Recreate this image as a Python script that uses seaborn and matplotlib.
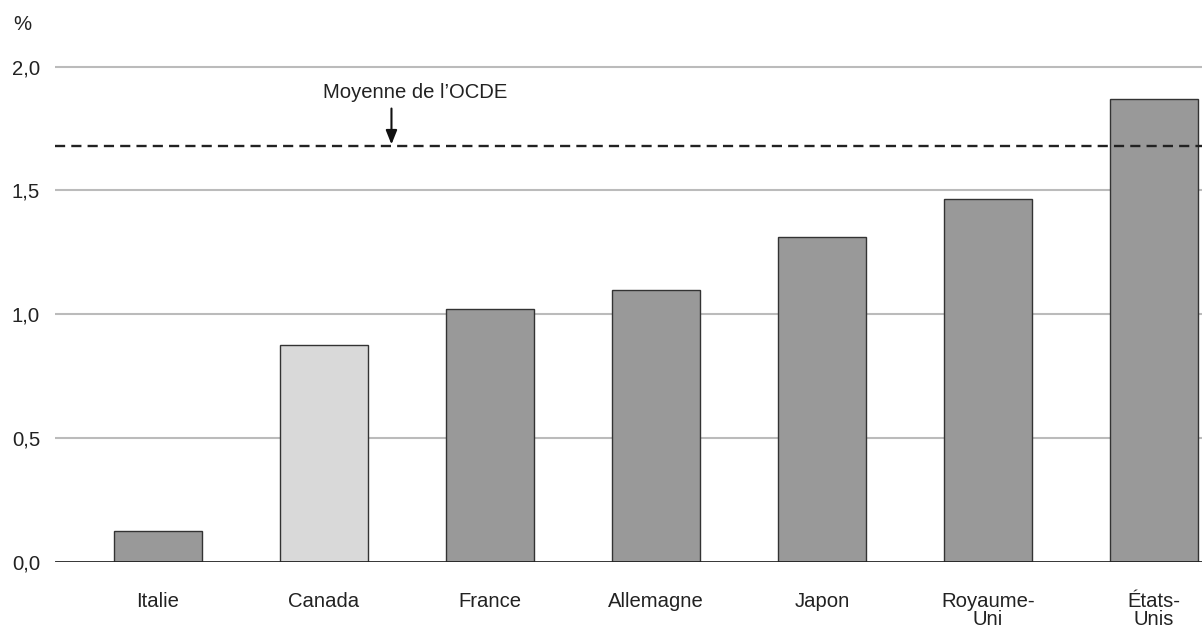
import matplotlib
matplotlib.use("Agg")
import matplotlib.pyplot as plt
import seaborn as sns
import pandas as pd

# Country values (%)
countries = ["Italie", "Canada", "France", "Allemagne", "Japon", "Royaume-\nUni", "États-\nUnis"]
values = [0.125, 0.876, 1.021, 1.098, 1.311, 1.464, 1.870]
oecd_mean = 1.681
y_ticks = [0.0, 0.5, 1.0, 1.5, 2.0]
y_tick_labels = ["0,0", "0,5", "1,0", "1,5", "2,0"]
mean_label = "Moyenne de l\u2019OCDE"
highlight = "Canada"

sns.set_theme(style="white")
plt.rcParams["font.family"] = ["Liberation Sans", "DejaVu Sans"]

dark = "#999999"
light = "#d9d9d9"
palette = {c: (light if c == highlight else dark) for c in countries}

df = pd.DataFrame({"pays": countries, "valeur": values})

fig = plt.figure(figsize=(12.02, 6.28), dpi=100)
ax = fig.add_axes([0.04576, 0.1056, 1.0 - 0.04576, 0.8276])

sns.barplot(data=df, x="pays", y="valeur", hue="pays", palette=palette,
            order=countries, hue_order=countries, legend=False,
            width=0.53, edgecolor="#333333", linewidth=1.0, saturation=1,
            ax=ax, zorder=3)

ax.set_xlim(-0.62, 6.29)
ax.set_ylim(0, 2.1)

# Horizontal gridlines
for t in y_ticks[1:]:
    ax.axhline(t, color="#bbbbbb", lw=1.5, zorder=1)
ax.axhline(0, color="#222222", lw=2.0, zorder=4)

# OECD average
ax.axhline(oecd_mean, color="#222222", lw=1.7, ls=(0, (4.3, 2.6)), zorder=5)
ax.annotate("", xy=(1.407, oecd_mean + 0.005), xytext=(1.407, oecd_mean + 0.15),
            arrowprops=dict(arrowstyle="-|>,head_width=0.28,head_length=0.7",
                            color="#111111", lw=1.5, shrinkA=0, shrinkB=0),
            zorder=6)
ax.text(1.551, 1.896, mean_label, ha="center", va="center", fontsize=14.6,
        color="#222222")

ax.set_yticks(y_ticks)
ax.set_yticklabels(y_tick_labels)
ax.tick_params(axis="y", length=0, pad=10.8, labelsize=14.6, labelcolor="#222222")
ax.tick_params(axis="x", length=0, pad=22, labelsize=14.6, labelcolor="#222222")
for lab in ax.get_xticklabels():
    lab.set_linespacing(0.9)

ax.set_xlabel("")
ax.set_ylabel("")
for s in ax.spines.values():
    s.set_visible(False)

fig.text(13 / 1202, 1 - 24 / 628, "%", ha="left", va="center", fontsize=14.6,
         color="#222222")

fig.savefig("out.png", dpi=100)
